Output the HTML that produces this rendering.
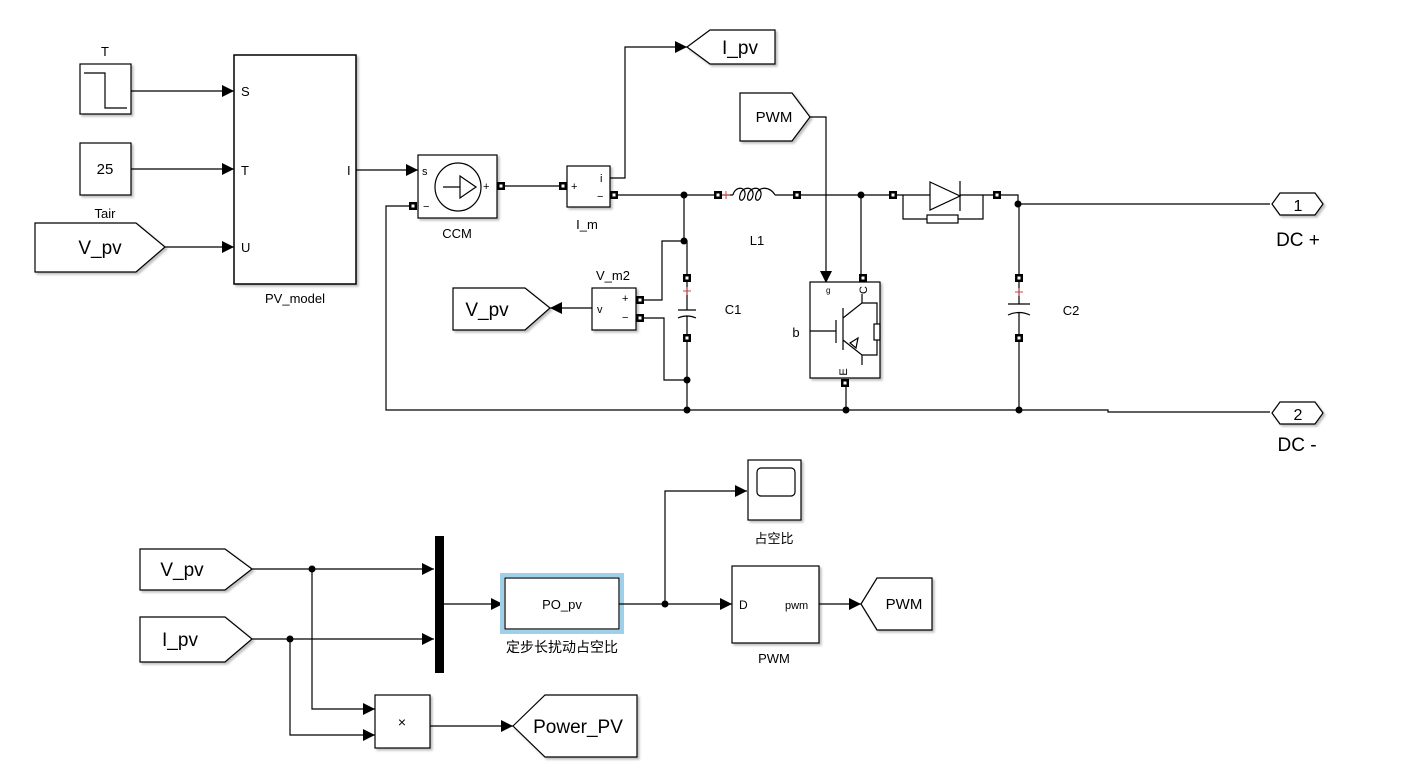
<!DOCTYPE html>
<html><head><meta charset="utf-8"><style>
html,body{margin:0;padding:0;background:#fff;}
svg{display:block;}
text{font-family:"Liberation Sans","Noto Sans CJK SC",sans-serif;fill:#000;}
</style></head><body>
<svg width="1421" height="771" viewBox="0 0 1421 771" xmlns="http://www.w3.org/2000/svg">
<defs>
<marker id="a" markerUnits="userSpaceOnUse" markerWidth="14" markerHeight="14" refX="12" refY="6" orient="auto"><path d="M0,0 L12,6 L0,12 z" fill="#000"/></marker>
<filter id="sh" x="-10%" y="-10%" width="130%" height="130%"><feDropShadow dx="2" dy="2" stdDeviation="1" flood-color="#000" flood-opacity="0.25"/></filter>
<g id="p"><rect x="-4" y="-4" width="8" height="8" fill="#000"/><rect x="-1.5" y="-1.5" width="3" height="3" fill="#fff"/></g>
</defs>
<g fill="none" stroke="#000" stroke-width="1.2">
<rect x="80" y="64" width="51" height="50" fill="#fff" filter="url(#sh)"/>
<path d="M84,73 H105 V108 H127"/>
<rect x="80" y="143" width="51" height="52" fill="#fff" filter="url(#sh)"/>
<path d="M35,223 H136 L165,247 L136,272 H35 Z" fill="#fff" filter="url(#sh)"/>
<rect x="234" y="55" width="122" height="229" fill="#fff" filter="url(#sh)" stroke-width="1.5"/>
<path d="M131,91 H234" marker-end="url(#a)"/>
<path d="M131,169 H234" marker-end="url(#a)"/>
<path d="M165,247 H234" marker-end="url(#a)"/>
<path d="M356,170 H418" marker-end="url(#a)"/>
<rect x="418" y="155" width="79" height="63" fill="#fff" filter="url(#sh)"/>
<ellipse cx="458" cy="187" rx="23" ry="24"/>
<path d="M443,187 H460 M460,176 L476,187 L460,198 Z"/>
<path d="M501,186 H563"/>
<path d="M413,206 H386 V410 H1108 V412 H1270"/>
<rect x="567" y="166" width="43" height="41" fill="#fff" filter="url(#sh)"/>
<path d="M610,178 H625 V47 H687" marker-end="url(#a)"/>
<path d="M687,47 L710,30 H775 V64 H710 Z" fill="#fff" filter="url(#sh)"/>
<path d="M614,195 H718"/>
<path d="M722,195 H733 M775,195 H797"/>
<path d="M733,195 C735,186 746,186 745,195 C744,202 738,202 740,195 C742,186 754,186 753,195 C752,202 746,202 748,195 C750,186 762,186 761,195 C760,202 754,202 756,195 C758,186 770,186 775,195"/>
<path d="M797,195 H893"/>
<path d="M740,93 H792 L810,117 L792,141 H740 Z" fill="#fff" filter="url(#sh)"/>
<path d="M810,117 H826 V283" marker-end="url(#a)"/>
<path d="M861,195 V278"/>
<rect x="810" y="282" width="70" height="96" fill="#fff" filter="url(#sh)"/>
<path d="M810,331 H836 M836,320 V343 M843,308 V350 M843,318 L862,303 V294 M862,303 H877 V324 M877,340 V355 H862 M843,340 L862,355 V365"/>
<rect x="874" y="324" width="6" height="16"/>
<path d="M850,343 L858,338 L856,348 Z"/>
<path d="M846,383 V410"/>
<path d="M997,195 H1018 V204 H1270"/>
<path d="M897,195 H930 M960,195 H993"/>
<path d="M930,182 L960,196 L930,210 Z M960,181 V211"/>
<path d="M903,195 V219 H927 M958,219 H983 V195"/>
<rect x="927" y="215" width="31" height="8"/>
<path d="M684,195 V241 H662 V300 H640 M684,241 H687 V274 M687,282 V310 M678,310 H696 M678,318 Q687,314 696,318 M687,316 V334 M687,342 V410 M640,318 H664 V380 H687"/>
<rect x="592" y="288" width="44" height="42" fill="#fff" filter="url(#sh)"/>
<path d="M592,308 H550" marker-end="url(#a)"/>
<path d="M453,288 H525 L550,308 L525,330 H453 Z" fill="#fff" filter="url(#sh)"/>
<path d="M1019,204 V274 M1019,282 V304 M1008,304 H1030 M1008,315 Q1019,310 1030,315 M1019,312 V334 M1019,342 V410"/>
<path d="M1272,204 L1280,193 H1315 L1323,204 L1315,215 H1280 Z" fill="#fff" filter="url(#sh)"/>
<path d="M1272,413 L1280,402 H1315 L1323,413 L1315,424 H1280 Z" fill="#fff" filter="url(#sh)"/>
<path d="M140,549 H225 L252,569 L225,590 H140 Z" fill="#fff" filter="url(#sh)"/>
<path d="M140,617 H225 L252,639 L225,662 H140 Z" fill="#fff" filter="url(#sh)"/>
<path d="M252,569 H434" marker-end="url(#a)"/>
<path d="M252,639 H434" marker-end="url(#a)"/>
<path d="M312,569 V709 H375" marker-end="url(#a)"/>
<path d="M290,639 V735 H375" marker-end="url(#a)"/>
<rect x="375" y="695" width="55" height="53" fill="#fff" filter="url(#sh)"/>
<path d="M430,726 H513" marker-end="url(#a)"/>
<path d="M513,726 L545,695 H637 V757 H545 Z" fill="#fff" filter="url(#sh)"/>
<path d="M444,604 H503" marker-end="url(#a)"/>
<rect x="502" y="575" width="120" height="57" fill="none" stroke="#9fd0ea" stroke-width="4"/>
<rect x="505" y="578" width="114" height="51" fill="#fff"/>
<path d="M619,604 H732" marker-end="url(#a)"/>
<path d="M665,604 V491 H747" marker-end="url(#a)"/>
<rect x="748" y="460" width="53" height="60" fill="#fff" filter="url(#sh)"/>
<rect x="757" y="468" width="38" height="28" rx="4"/>
<rect x="732" y="566" width="87" height="77" fill="#fff" filter="url(#sh)"/>
<path d="M819,604 H861" marker-end="url(#a)"/>
<path d="M861,604 L877,578 H932 V630 H877 Z" fill="#fff" filter="url(#sh)"/>
</g>
<rect x="435" y="536" width="9" height="137" fill="#000"/>
<g fill="#000">
<circle cx="684" cy="195" r="3.5"/><circle cx="861" cy="195" r="3.5"/><circle cx="1018" cy="204" r="3.5"/>
<circle cx="684" cy="241" r="3.5"/><circle cx="687" cy="380" r="3.5"/>
<circle cx="687" cy="410" r="3.5"/><circle cx="846" cy="410" r="3.5"/><circle cx="1019" cy="410" r="3.5"/>
<circle cx="312" cy="569" r="3.5"/><circle cx="290" cy="639" r="3.5"/><circle cx="665" cy="604" r="3.5"/>
</g>
<g>
<use href="#p" x="413" y="206"/><use href="#p" x="501" y="186"/><use href="#p" x="563" y="186"/><use href="#p" x="614" y="195"/>
<use href="#p" x="718" y="195"/><use href="#p" x="797" y="195"/><use href="#p" x="893" y="195"/><use href="#p" x="997" y="195"/>
<use href="#p" x="687" y="278"/><use href="#p" x="687" y="338"/><use href="#p" x="640" y="300"/><use href="#p" x="640" y="318"/>
<use href="#p" x="863" y="278"/><use href="#p" x="845" y="383"/><use href="#p" x="1019" y="278"/><use href="#p" x="1019" y="338"/>
</g>
<g fill="#c44" stroke="#c44" stroke-width="1"><path d="M726,191 V199 M722,195 H730"/><path d="M687,287 V295 M683,291 H691"/><path d="M1019,288 V296 M1015,292 H1023"/></g>
<g font-size="13">
<text x="105" y="56" text-anchor="middle">T</text>
<text x="105" y="174" text-anchor="middle" font-size="15">25</text>
<text x="105" y="218" text-anchor="middle">Tair</text>
<text x="241" y="96">S</text><text x="241" y="175">T</text><text x="241" y="252">U</text>
<text x="347" y="175" font-family="Liberation Serif">I</text>
<text x="295" y="303" text-anchor="middle">PV_model</text>
<text x="422" y="175" font-size="11">s</text><text x="423" y="210" font-size="11">−</text><text x="483" y="190" font-size="11">+</text>
<text x="457" y="238" text-anchor="middle">CCM</text>
<text x="571" y="190" font-size="11">+</text><text x="600" y="182" font-size="11">i</text><text x="597" y="200" font-size="11">−</text>
<text x="587" y="229" text-anchor="middle">I_m</text>
<text x="757" y="245" text-anchor="middle">L1</text>
<text x="733" y="314" text-anchor="middle">C1</text>
<text x="1071" y="315" text-anchor="middle">C2</text>
<text x="613" y="280" text-anchor="middle">V_m2</text>
<text x="597" y="313" font-size="11">v</text><text x="622" y="302" font-size="11">+</text><text x="622" y="321" font-size="11">−</text>
<text x="796" y="337" text-anchor="middle">b</text>
<text x="826" y="293" font-size="8">g</text>
<text x="867" y="290" font-size="11" transform="rotate(-90 867 290)" text-anchor="middle">C</text>
<text x="847" y="372" font-size="11" transform="rotate(-90 847 372)" text-anchor="middle">E</text>
<text x="774" y="122" text-anchor="middle" font-size="15">PWM</text>
<text x="774" y="543" text-anchor="middle">占空比</text>
<text x="739" y="609" font-size="12">D</text><text x="785" y="609" font-size="11">pwm</text>
<text x="774" y="663" text-anchor="middle">PWM</text>
<text x="904" y="609" text-anchor="middle" font-size="15">PWM</text>
<text x="562" y="609" text-anchor="middle">PO_pv</text>
<text x="562" y="652" text-anchor="middle" font-size="14">定步长扰动占空比</text>
<text x="402" y="727" text-anchor="middle" font-size="14">×</text>
</g>
<g font-size="19">
<text x="100" y="254" text-anchor="middle">V_pv</text>
<text x="487" y="316" text-anchor="middle">V_pv</text>
<text x="740" y="54" text-anchor="middle">I_pv</text>
<text x="182" y="576" text-anchor="middle">V_pv</text>
<text x="180" y="646" text-anchor="middle">I_pv</text>
<text x="578" y="733" text-anchor="middle">Power_PV</text>
<text x="1298" y="211" text-anchor="middle" font-size="16">1</text>
<text x="1298" y="420" text-anchor="middle" font-size="16">2</text>
<text x="1298" y="246" text-anchor="middle">DC +</text>
<text x="1297" y="451" text-anchor="middle">DC -</text>
</g>
</svg>
</body></html>
